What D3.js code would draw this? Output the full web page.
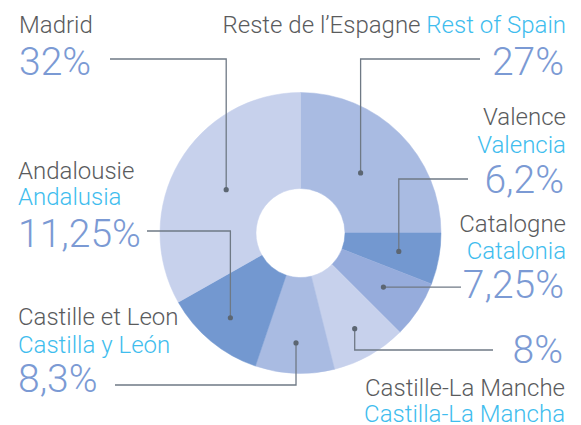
<!DOCTYPE html>
<html>
<head>
<meta charset="utf-8">
<script src="https://cdn.jsdelivr.net/npm/d3@7"></script>
<style>
  body { margin: 0; background: #fff; }
  text { font-family: Roboto, "Open Sans", sans-serif; font-weight: 300; }
</style>
</head>
<body>
<div id="chart"></div>
<script>
// Width and height of the SVG
const width = 581;
const height = 425;

// slices clockwise from 12 o'clock
const regionsFr = ["Reste de l\u2019Espagne", "Valence", "Catalogne", "Castille-La Manche", "Castille et Leon", "Andalousie", "Madrid"];
const regionsEs = ["Rest of Spain", "Valencia", "Catalonia", "Castilla-La Mancha", "Castilla y Le\u00f3n", "Andalusia", ""];
const pctLabels = ["27%", "6,2%", "7,25%", "8%", "8,3%", "11,25%", "32%"];
// share of the ring as drawn in the picture (not quite the printed numbers)
const sliceShares = [25, 5.9, 6.6, 8.6, 9.1, 11.6, 33.2];
const sliceColors = ["#a9bbe2", "#7398d0", "#96acdc", "#c7d1ec", "#a9bbe2", "#7398d0", "#c7d1ec"];

const cx = 300.5, cy = 233;
const outerR = 140.5, innerR = 44.5;

// label layout: anchor side, x, baselines, leader elbow + end
const layout = [
    { side: "right", x: 566, yName: 33, yPct: 75, dotR: 85, elbowY: 59, endX: 480 },
    { side: "right", x: 566, yName: 125, yEs: 153, yPct: 193, dotR: 100, elbowY: 179, endX: 468 },
    { side: "right", x: 566, yName: 232, yEs: 259, yPct: 298, dotR: 99, elbowY: null, endX: 461 },
    { side: "right", x: 565, yName: 396, yEs: 422, yPct: 363, dotR: 110, elbowY: 350, endX: 493 },
    { side: "left", x: 18, yName: 325, yEs: 353, yPct: 392, dotR: 110, elbowY: 385, endX: 115 },
    { side: "left", x: 18, yName: 179, yEs: 205, yPct: 247, dotR: 110, elbowY: 231, endX: 147 },
    { side: "left", x: 19, yName: 33, yPct: 75, dotR: 86, elbowY: 59, endX: 110 }
];

const svg = d3.select("#chart")
    .append("svg")
    .attr("width", width)
    .attr("height", height);

const pie = d3.pie().sort(null).value(d => d);
const arcs = pie(sliceShares);
const arc = d3.arc().innerRadius(innerR).outerRadius(outerR);

const g = svg.append("g").attr("transform", `translate(${cx},${cy})`);

g.selectAll("path.slice")
    .data(arcs)
    .enter()
    .append("path")
    .attr("class", "slice")
    .attr("d", arc)
    .attr("fill", (d, i) => sliceColors[i])
    .attr("stroke", (d, i) => sliceColors[i])
    .attr("stroke-width", 0.5);

// leader lines and dots
arcs.forEach((d, i) => {
    const L = layout[i];
    const c = d3.arc().innerRadius(L.dotR).outerRadius(L.dotR).centroid(d);
    const px = cx + c[0], py = cy + c[1];
    let pts;
    if (L.elbowY === null) {
        pts = [[px, py], [L.endX, py]];
    } else {
        pts = [[px, py], [px, L.elbowY], [L.endX, L.elbowY]];
    }
    svg.append("path")
        .attr("d", d3.line()(pts))
        .attr("fill", "none")
        .attr("stroke", "#6f7985")
        .attr("stroke-width", 1.3);
    svg.append("circle")
        .attr("cx", px)
        .attr("cy", py)
        .attr("r", 2.6)
        .attr("fill", "#5c6672");
});

// labels
const nameSize = 24, pctSize = 39;
arcs.forEach((d, i) => {
    const L = layout[i];
    const anchor = L.side === "right" ? "end" : "start";
    if (i === 0) {
        // French and English on the same line
        const t = svg.append("text")
            .attr("x", L.x).attr("y", L.yName)
            .attr("text-anchor", anchor)
            .style("font-size", nameSize + "px");
        t.append("tspan").attr("fill", "#5a5b5d").text(regionsFr[i] + " ");
        t.append("tspan").attr("fill", "#3fbdee").text(regionsEs[i]);
    } else {
        svg.append("text")
            .attr("x", L.x).attr("y", L.yName)
            .attr("text-anchor", anchor)
            .attr("fill", "#5a5b5d")
            .style("font-size", nameSize + "px")
            .text(regionsFr[i]);
        if (regionsEs[i] !== "") {
            svg.append("text")
                .attr("x", L.x).attr("y", L.yEs)
                .attr("text-anchor", anchor)
                .attr("fill", "#3fbdee")
                .style("font-size", nameSize + "px")
                .text(regionsEs[i]);
        }
    }
    svg.append("text")
        .attr("x", L.side === "right" ? L.x - 2 : L.x)
        .attr("y", L.yPct)
        .attr("text-anchor", anchor)
        .attr("fill", "#7b9ad4")
        .style("font-size", pctSize + "px")
        .text(pctLabels[i]);
});
</script>
</body>
</html>
